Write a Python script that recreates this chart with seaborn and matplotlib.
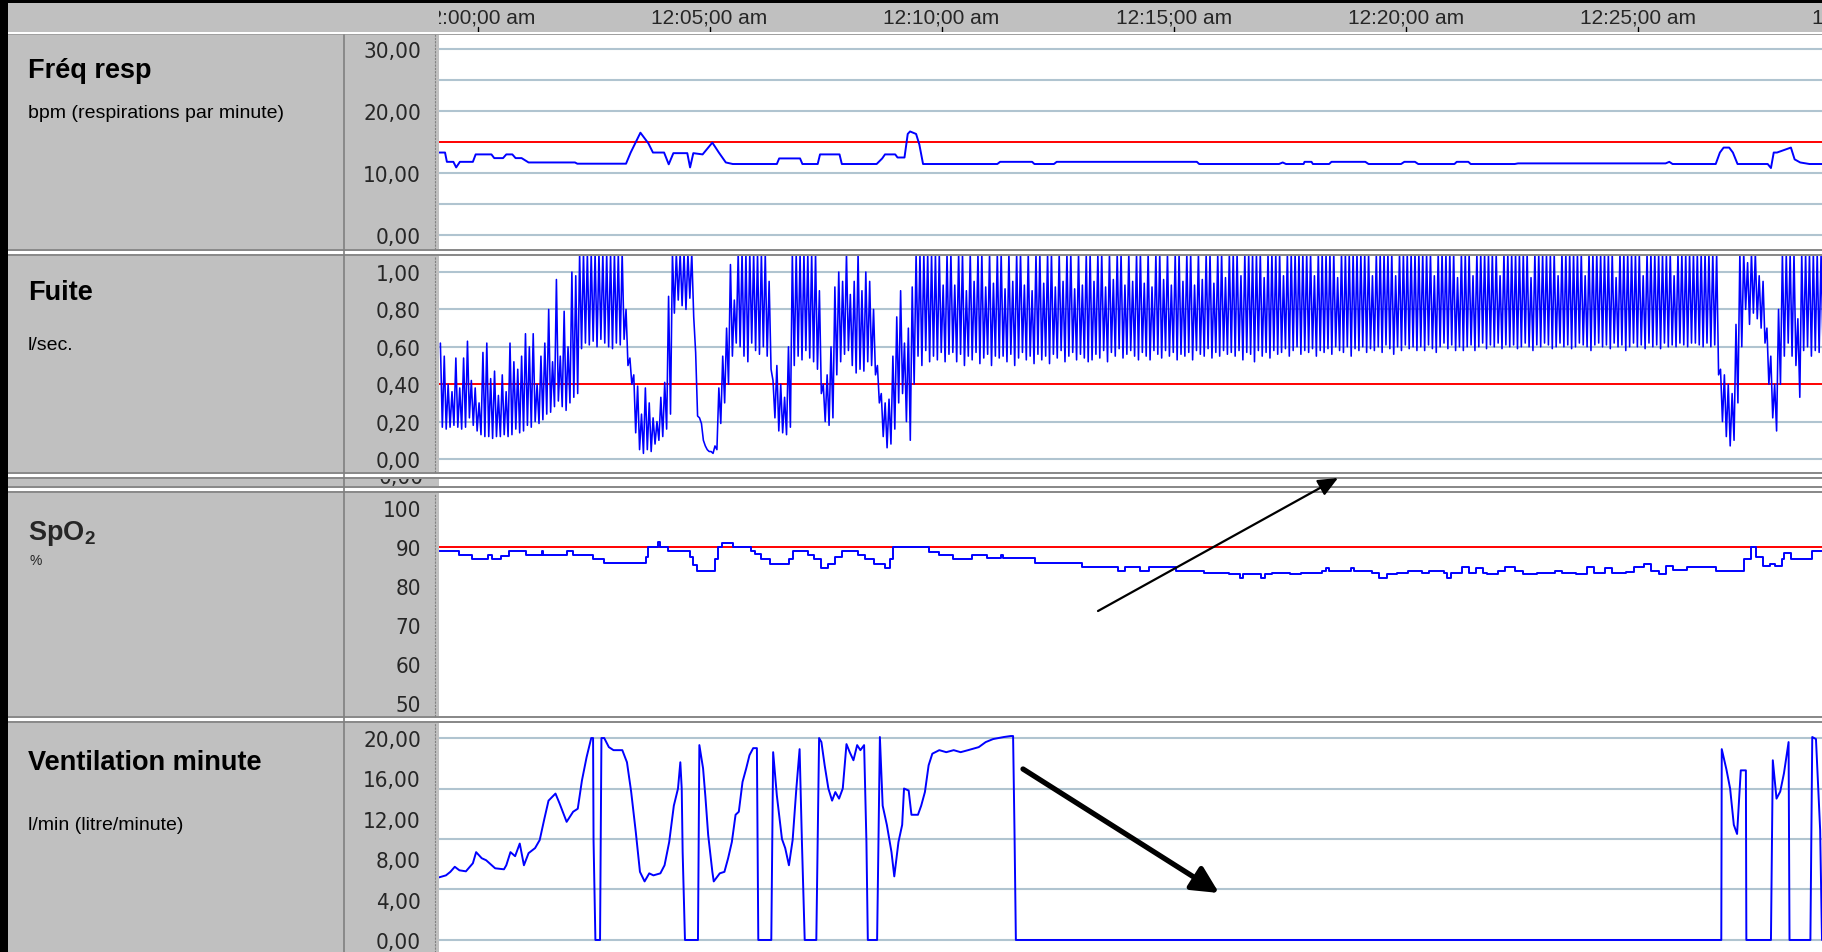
#!/usr/bin/env python3
# -*- coding: utf-8 -*-
"""
Capture d'ecran d'un logiciel de ventilation : 4 pistes (Fréq resp, Fuite, SpO2, Ventilation minute)
Temps en minutes apres 12:00:00 am.
"""

import numpy as np
import matplotlib
matplotlib.use('Agg')
import matplotlib.pyplot as plt
from matplotlib.patches import Rectangle
from matplotlib import font_manager
import seaborn as sns

# ============================================================================
# Donnees (minutes apres 12:00)
# ============================================================================
resp_t = [-0.83, -0.70, -0.66, -0.52, -0.46, -0.38, -0.10, -0.04, 0.30, 0.36,
          0.55, 0.62, 0.75, 0.82, 0.95, 1.10, 2.10, 2.15, 3.20, 3.30,
          3.51, 3.68, 3.78, 4.02, 4.12, 4.22, 4.52, 4.58, 4.65, 4.85,
          5.06, 5.20, 5.35, 5.50, 6.45, 6.50, 6.95, 7.00, 7.33, 7.38,
          7.80, 7.85, 8.60, 8.72, 8.78, 9.00, 9.05, 9.20, 9.27, 9.32,
          9.45, 9.52, 9.60, 11.20, 11.26, 11.95, 12.00, 12.42, 12.48, 15.50,
          15.55, 17.27, 17.35, 17.42, 17.80, 17.82, 17.97, 18.00, 18.35, 18.40,
          19.13, 19.20, 19.90, 19.97, 20.20, 20.27, 21.05, 21.10, 21.35, 21.40,
          22.35, 22.42, 25.60, 25.68, 25.75, 26.68, 26.77, 26.85, 26.97, 27.05,
          27.15, 27.80, 27.87, 27.93, 28.00, 28.30, 28.38, 28.50, 28.70, 29.00]
resp_v = [13.3, 13.3, 11.8, 11.8, 10.9, 11.8, 11.8, 13.0, 13.0, 12.4,
          12.4, 13.0, 13.0, 12.4, 12.4, 11.7, 11.7, 11.5, 11.5, 13.3,
          16.5, 14.8, 13.3, 13.3, 11.4, 13.2, 13.2, 10.9, 13.2, 13.0,
          14.9, 13.3, 11.7, 11.45, 11.45, 12.35, 12.35, 11.45, 11.45, 13.0,
          13.0, 11.45, 11.45, 12.35, 13.0, 13.0, 12.5, 12.5, 16.3, 16.7,
          16.3, 14.6, 11.45, 11.45, 11.8, 11.8, 11.45, 11.45, 11.8, 11.8,
          11.45, 11.45, 11.7, 11.45, 11.45, 11.8, 11.8, 11.45, 11.45, 11.8,
          11.8, 11.45, 11.45, 11.8, 11.8, 11.45, 11.45, 11.8, 11.8, 11.45,
          11.45, 11.55, 11.55, 11.8, 11.45, 11.45, 13.3, 14.1, 14.1, 13.3,
          11.45, 11.45, 10.8, 13.3, 13.3, 14.1, 12.2, 11.7, 11.45, 11.45]

# Fuite : un cycle respiratoire (pic / creux) toutes les 5 s (1/12 min) a partir de -0,8 min
# une ligne = une minute ; 1,10 = pic hors echelle (coupe en haut de la piste)
FUITE_T0 = -0.8
FUITE_STEP = 1 / 12
fuite_hi = [0.62, 0.55, 0.40, 0.36, 0.54, 0.38, 0.54, 0.63, 0.42, 0.38, 0.30, 0.57,
            0.62, 0.43, 0.47, 0.34, 0.45, 0.36, 0.62, 0.52, 0.48, 0.55, 0.67, 0.60,
            0.67, 0.40, 0.55, 0.62, 0.80, 0.52, 0.96, 0.55, 0.79, 0.60, 1.00, 0.98,
            1.10, 1.10, 1.10, 1.10, 1.10, 1.10, 1.10, 1.10, 1.10, 1.10, 1.10, 1.10,
            0.80, 0.54, 0.45, 0.39, 0.24, 0.38, 0.30, 0.22, 0.20, 0.33, 0.41, 0.87,
            1.10, 1.10, 1.10, 1.10, 1.10, 1.10, 0.57, 0.22, 0.10, 0.05, 0.04, 0.07,
            0.38, 0.55, 0.70, 1.04, 0.85, 1.10, 1.10, 1.10, 1.10, 1.10, 1.10, 1.10,
            1.10, 0.95, 0.42, 0.50, 0.40, 0.33, 0.60, 1.10, 1.10, 1.10, 1.10, 1.10,
            1.10, 1.10, 0.90, 0.40, 0.45, 0.60, 0.92, 1.00, 0.95, 1.10, 0.88, 0.95,
            1.10, 0.90, 1.00, 0.95, 0.80, 0.50, 0.35, 0.30, 0.32, 0.55, 0.76, 0.90,
            0.62, 0.70, 0.92, 1.10, 1.10, 1.10, 1.10, 1.10, 1.10, 1.10, 0.93, 1.10,
            1.10, 0.93, 1.10, 1.10, 0.90, 1.10, 0.95, 1.10, 1.10, 0.92, 1.10, 0.94,
            1.10, 1.10, 0.91, 1.10, 0.95, 1.10, 1.10, 0.93, 1.10, 0.90, 1.10, 1.10,
            0.94, 1.10, 1.10, 0.92, 1.10, 0.95, 1.10, 1.10, 0.91, 1.10, 0.93, 1.10,
            1.10, 0.95, 1.10, 1.10, 0.92, 1.10, 0.96, 1.10, 1.10, 0.93, 1.10, 0.95,
            1.10, 1.10, 0.94, 1.10, 0.92, 1.10, 1.10, 0.96, 1.10, 0.93, 1.10, 1.10,
            0.95, 1.10, 1.10, 0.93, 1.10, 0.96, 1.10, 1.10, 0.94, 1.10, 1.10, 0.97,
            1.10, 1.10, 1.10, 0.98, 1.10, 1.10, 1.10, 1.10, 1.10, 0.97, 1.10, 1.10,
            1.10, 1.10, 0.98, 1.10, 1.10, 1.10, 1.10, 1.10, 1.10, 1.10, 0.98, 1.10,
            1.10, 1.10, 1.10, 1.10, 0.97, 1.10, 1.10, 1.10, 1.10, 1.10, 1.10, 1.10,
            1.10, 0.98, 1.10, 1.10, 1.10, 1.10, 1.10, 0.98, 1.10, 1.10, 1.10, 1.10,
            1.10, 1.10, 1.10, 1.10, 1.10, 0.98, 1.10, 1.10, 1.10, 1.10, 1.10, 0.97,
            1.10, 1.10, 1.10, 0.98, 1.10, 1.10, 1.10, 1.10, 1.10, 1.10, 0.98, 1.10,
            1.10, 1.10, 1.10, 1.10, 1.10, 1.10, 0.97, 1.10, 1.10, 1.10, 1.10, 1.10,
            1.10, 0.98, 1.10, 1.10, 1.10, 1.10, 1.10, 1.10, 0.98, 1.10, 1.10, 1.10,
            1.10, 1.10, 1.10, 1.10, 0.97, 1.10, 1.10, 1.10, 1.10, 1.10, 1.10, 0.98,
            1.10, 1.10, 1.10, 1.10, 1.10, 1.10, 1.10, 0.98, 1.10, 1.10, 1.10, 1.10,
            1.10, 1.10, 1.10, 1.10, 1.10, 1.10, 1.10, 0.48, 0.45, 0.40, 0.35, 0.72,
            1.10, 1.10, 1.05, 1.10, 1.10, 0.98, 0.95, 0.70, 0.55, 0.40, 0.80, 1.10,
            1.10, 1.10, 1.10, 0.75, 1.10, 1.10, 1.10, 1.10, 1.10, 1.10]
fuite_lo = [0.17, 0.16, 0.17, 0.18, 0.17, 0.16, 0.17, 0.22, 0.18, 0.15, 0.13, 0.12,
            0.12, 0.11, 0.12, 0.12, 0.13, 0.12, 0.13, 0.16, 0.14, 0.15, 0.18, 0.17,
            0.20, 0.19, 0.21, 0.24, 0.25, 0.28, 0.31, 0.28, 0.26, 0.30, 0.33, 0.35,
            0.59, 0.62, 0.61, 0.63, 0.60, 0.64, 0.62, 0.60, 0.59, 0.62, 0.61, 0.64,
            0.50, 0.40, 0.14, 0.05, 0.03, 0.05, 0.04, 0.08, 0.10, 0.12, 0.16, 0.24,
            0.78, 0.85, 0.82, 0.80, 0.86, 0.76, 0.23, 0.19, 0.07, 0.04, 0.03, 0.05,
            0.19, 0.30, 0.40, 0.55, 0.62, 0.60, 0.55, 0.52, 0.62, 0.58, 0.56, 0.60,
            0.55, 0.48, 0.22, 0.15, 0.14, 0.13, 0.17, 0.50, 0.55, 0.53, 0.58, 0.54,
            0.52, 0.48, 0.35, 0.20, 0.18, 0.22, 0.45, 0.52, 0.56, 0.58, 0.50, 0.46,
            0.48, 0.47, 0.52, 0.50, 0.45, 0.30, 0.12, 0.06, 0.08, 0.16, 0.30, 0.35,
            0.20, 0.10, 0.40, 0.55, 0.50, 0.58, 0.52, 0.55, 0.53, 0.57, 0.52, 0.56,
            0.57, 0.52, 0.56, 0.50, 0.55, 0.53, 0.57, 0.51, 0.54, 0.56, 0.50, 0.55,
            0.54, 0.55, 0.52, 0.56, 0.50, 0.54, 0.57, 0.53, 0.55, 0.51, 0.56, 0.53,
            0.55, 0.51, 0.56, 0.54, 0.58, 0.52, 0.55, 0.57, 0.53, 0.56, 0.54, 0.52,
            0.53, 0.56, 0.54, 0.58, 0.52, 0.57, 0.55, 0.59, 0.54, 0.56, 0.58, 0.55,
            0.53, 0.57, 0.55, 0.53, 0.58, 0.56, 0.54, 0.58, 0.55, 0.57, 0.53, 0.56,
            0.55, 0.57, 0.53, 0.58, 0.56, 0.55, 0.59, 0.54, 0.57, 0.55, 0.58, 0.56,
            0.57, 0.55, 0.58, 0.53, 0.57, 0.56, 0.52, 0.58, 0.55, 0.57, 0.54, 0.58,
            0.56, 0.57, 0.59, 0.55, 0.58, 0.60, 0.56, 0.58, 0.57, 0.59, 0.55, 0.58,
            0.57, 0.59, 0.56, 0.60, 0.58, 0.57, 0.60, 0.55, 0.59, 0.58, 0.60, 0.57,
            0.59, 0.58, 0.60, 0.57, 0.61, 0.59, 0.56, 0.60, 0.58, 0.61, 0.59, 0.60,
            0.58, 0.60, 0.58, 0.61, 0.59, 0.57, 0.60, 0.62, 0.59, 0.61, 0.58, 0.60,
            0.58, 0.60, 0.61, 0.58, 0.60, 0.62, 0.59, 0.61, 0.60, 0.62, 0.59, 0.61,
            0.60, 0.61, 0.59, 0.60, 0.62, 0.60, 0.58, 0.61, 0.60, 0.62, 0.61, 0.59,
            0.60, 0.62, 0.60, 0.61, 0.59, 0.60, 0.62, 0.61, 0.60, 0.58, 0.61, 0.62,
            0.60, 0.61, 0.59, 0.62, 0.60, 0.61, 0.58, 0.60, 0.62, 0.60, 0.61, 0.59,
            0.62, 0.60, 0.61, 0.59, 0.62, 0.60, 0.61, 0.60, 0.62, 0.61, 0.60, 0.62,
            0.62, 0.61, 0.60, 0.62, 0.60, 0.61, 0.45, 0.20, 0.12, 0.07, 0.10, 0.30,
            0.60, 0.80, 0.72, 0.78, 0.75, 0.70, 0.62, 0.40, 0.22, 0.15, 0.40, 0.55,
            0.62, 0.55, 0.50, 0.33, 0.58, 0.60, 0.55, 0.58, 0.57, 0.60]

# SpO2 : paliers (valeur tenue jusqu'au point suivant)
spo2_t = [-0.83, -0.40, -0.12, 0.22, 0.32, 0.50, 0.68, 1.05, 1.38, 1.42,
          1.93, 2.05, 2.48, 2.72, 3.62, 3.67, 3.88, 3.93, 4.10, 4.58,
          4.65, 4.72, 5.12, 5.18, 5.26, 5.50, 5.90, 5.98, 6.10, 6.30,
          6.72, 6.80, 7.12, 7.25, 7.40, 7.55, 7.70, 7.85, 8.20, 8.35,
          8.55, 8.78, 8.88, 8.95, 9.72, 9.95, 10.25, 10.65, 10.98, 11.28,
          11.32, 12.02, 13.02, 13.80, 13.96, 14.27, 14.47, 15.04, 15.66, 16.20,
          16.43, 16.50, 16.89, 16.97, 17.12, 17.50, 17.74, 18.20, 18.28, 18.35,
          18.82, 18.89, 19.28, 19.43, 19.59, 19.82, 20.05, 20.36, 20.51, 20.82,
          20.90, 20.97, 21.21, 21.36, 21.51, 21.67, 21.75, 21.98, 22.13, 22.36,
          22.52, 22.83, 23.21, 23.37, 23.67, 23.90, 24.06, 24.29, 24.44, 24.75,
          24.91, 25.14, 25.29, 25.45, 25.60, 25.76, 26.06, 26.68, 27.30, 27.45,
          27.55, 27.70, 27.84, 27.95, 28.10, 28.15, 28.30, 28.76, 29.00]
spo2_v = [89.1, 87.9, 86.9, 87.9, 86.9, 87.6, 89.0, 87.9, 89.0, 87.9,
          89.0, 87.9, 86.9, 85.8, 87.5, 90.0, 91.2, 90.0, 89.0, 87.5,
          85.5, 83.8, 87.0, 90.0, 91.0, 90.0, 89.0, 88.1, 86.8, 85.7,
          86.8, 89.1, 88.0, 86.8, 84.7, 85.7, 87.5, 89.1, 88.0, 86.8,
          85.7, 84.7, 87.0, 90.0, 88.8, 87.9, 86.8, 87.9, 87.2, 87.9,
          87.2, 85.9, 84.8, 83.8, 84.8, 83.8, 84.8, 83.8, 83.4, 83.0,
          82.1, 83.0, 82.1, 83.0, 83.4, 83.0, 83.4, 83.8, 84.5, 83.8,
          84.5, 83.8, 83.4, 82.1, 83.0, 83.4, 83.8, 83.4, 83.8, 83.4,
          82.1, 83.4, 84.8, 83.4, 84.7, 83.4, 83.0, 83.8, 84.8, 83.8,
          83.0, 83.4, 83.8, 83.4, 83.0, 84.8, 83.4, 84.7, 83.4, 83.6,
          84.8, 85.7, 83.8, 83.0, 85.1, 84.2, 84.8, 83.8, 87.0, 90.0,
          87.5, 85.1, 85.7, 85.1, 87.0, 88.5, 87.0, 89.0, 89.0]

vent_t = [-0.83, -0.68, -0.585, -0.49, -0.39, -0.25, -0.10, -0.03, 0.09, 0.185,
          0.38, 0.57, 0.62, 0.71, 0.81, 0.91, 1.00, 1.10, 1.24, 1.34,
          1.44, 1.53, 1.68, 1.77, 1.92, 2.06, 2.16, 2.25, 2.35, 2.45,
          2.49, 2.50, 2.54, 2.64, 2.67, 2.73, 2.83, 2.93, 3.12, 3.22,
          3.31, 3.41, 3.50, 3.60, 3.70, 3.79, 3.94, 4.03, 4.13, 4.23,
          4.32, 4.37, 4.40, 4.42, 4.47, 4.75, 4.78, 4.86, 4.91, 4.97,
          5.06, 5.09, 5.22, 5.32, 5.40, 5.48, 5.56, 5.63, 5.71, 5.79,
          5.86, 5.94, 6.02, 6.05, 6.33, 6.37, 6.45, 6.56, 6.63, 6.71,
          6.79, 6.87, 6.94, 6.99, 7.05, 7.30, 7.36, 7.41, 7.48, 7.56,
          7.64, 7.71, 7.79, 7.87, 7.95, 8.02, 8.10, 8.18, 8.25, 8.33,
          8.38, 8.41, 8.61, 8.67, 8.73, 8.82, 8.92, 8.98, 9.07, 9.15,
          9.19, 9.29, 9.35, 9.49, 9.56, 9.64, 9.72, 9.80, 9.95, 10.10,
          10.26, 10.41, 10.57, 10.80, 10.95, 11.11, 11.34, 11.49, 11.54, 11.57,
          11.60, 26.80, 26.81, 26.91, 26.99, 27.07, 27.14, 27.22, 27.33, 27.34,
          27.87, 27.91, 27.99, 28.07, 28.15, 28.25, 28.27, 28.72, 28.76, 28.84,
          28.93, 28.97]
vent_v = [6.2, 6.4, 6.75, 7.25, 6.9, 6.8, 7.6, 8.7, 8.1, 7.9,
          7.1, 7.0, 7.4, 8.7, 8.3, 9.55, 7.4, 8.6, 9.1, 9.9,
          12.0, 13.8, 14.5, 13.5, 11.7, 12.7, 13.0, 15.8, 18.1, 20.0,
          20.0, 9.9, 0.0, 0.0, 20.0, 20.0, 19.1, 18.8, 18.8, 17.6,
          14.7, 10.7, 6.75, 5.8, 6.6, 6.4, 6.6, 7.4, 9.7, 13.3,
          15.0, 17.6, 15.0, 8.7, 0.0, 0.0, 19.3, 17.0, 14.2, 10.4,
          6.75, 5.8, 6.6, 6.75, 8.1, 9.7, 12.4, 12.7, 15.65, 17.0,
          18.3, 19.0, 19.0, 0.0, 0.0, 18.6, 14.3, 10.0, 9.1, 7.4,
          9.9, 15.0, 18.9, 9.7, 0.0, 0.0, 20.0, 19.6, 17.3, 15.0,
          13.8, 14.65, 14.0, 15.0, 19.4, 18.6, 17.8, 19.3, 18.8, 19.3,
          9.7, 0.0, 0.0, 20.1, 13.3, 11.4, 8.7, 6.3, 9.7, 11.4,
          15.0, 14.8, 12.4, 12.4, 13.3, 14.65, 17.3, 18.45, 18.8, 18.6,
          18.8, 18.6, 18.8, 19.1, 19.6, 19.9, 20.1, 20.2, 20.2, 10.9,
          0.0, 0.0, 18.9, 16.9, 15.0, 11.4, 10.5, 16.8, 16.8, 0.0,
          0.0, 17.8, 14.0, 14.7, 16.5, 19.6, 0.0, 0.0, 20.1, 19.9,
          10.9, 0.0]

header_ticks = [0, 5, 10, 15, 20, 25, 30]
header_labels = ['12:00;00 am', '12:05;00 am', '12:10;00 am', '12:15;00 am',
                 '12:20;00 am', '12:25;00 am', '12:30;00 am']

# ============================================================================
# Mise en page (pixels de l'image 1822x953)
# ============================================================================
W, H = 1822, 953
X_MIN, X_MAX = -0.83, 28.97
PLOT_X0 = 439

GRAY = '#c0c0c0'
DARK = '#808080'
GRID = '#b0c4d0'
BLUE = '#0000ff'
RED = '#ff0000'

sns.set_style('white')
plt.rcParams['font.family'] = ['Liberation Sans', 'DejaVu Sans']

available = {f.name for f in font_manager.fontManager.ttflist}
if 'Liberation Sans Narrow' in available:
    TICK_FONT = dict(family='Liberation Sans Narrow', size=19)
else:
    TICK_FONT = dict(family='DejaVu Sans', stretch='condensed', size=16)


def frac(x0, y0, x1, y1):
    """rectangle en pixels (haut-gauche / bas-droite) -> fraction de figure"""
    return [x0 / W, 1 - y1 / H, (x1 - x0) / W, (y1 - y0) / H]


def make_panel(fig, y0, y1, ylim, major, labels, minor, grid, limit=None, minor_len=6):
    ax = fig.add_axes(frac(PLOT_X0, y0, W, y1))
    ax.set_facecolor('white')
    ax.set_xlim(X_MIN, X_MAX)
    ax.set_ylim(*ylim)
    for s in ('top', 'right', 'bottom'):
        ax.spines[s].set_visible(False)
    ax.spines['left'].set_position(('outward', 3))
    ax.spines['left'].set_linestyle((0, (1, 2)))
    ax.spines['left'].set_color(DARK)
    ax.spines['left'].set_linewidth(0.8)
    ax.set_xticks([])
    ax.set_yticks(major, labels)
    ax.set_yticks(minor, minor=True)
    ax.tick_params(axis='y', which='major', direction='out', length=6,
                   width=1.2, color='black', pad=4)
    ax.tick_params(axis='y', which='minor', direction='out', length=minor_len,
                   width=1.2, color='black')
    for lbl in ax.get_yticklabels():
        lbl.set(**TICK_FONT)
    ax.grid(False)
    for g in grid:
        ax.axhline(g, color=GRID, lw=1.5, zorder=1)
    if limit is not None:
        ax.axhline(limit, color=RED, lw=1.4, zorder=2)
    return ax


def main():
    fig = plt.figure(figsize=(W / 100, H / 100), dpi=100)
    fig.patch.set_facecolor(GRAY)

    # ---- fond : bordures, separateurs, colonne des titres ----
    bg = fig.add_axes([0, 0, 1, 1])
    bg.set_xlim(0, W)
    bg.set_ylim(H, 0)
    bg.axis('off')
    bg.add_patch(Rectangle((0, 0), 8, H, color='black', lw=0))
    bg.add_patch(Rectangle((0, 0), W, 4, color='black', lw=0))
    bg.add_patch(Rectangle((8, 33), W, 2, color='white', lw=0))
    bg.add_patch(Rectangle((8, 35), W, 1, color='#a0a0a0', lw=0))
    for y in [250, 473, 487, 717]:
        bg.add_patch(Rectangle((8, y), W, 2, color='#8a8a8a', lw=0))
        bg.add_patch(Rectangle((8, y + 2), W, 2.5, color='white', lw=0))
        bg.add_patch(Rectangle((8, y + 4.5), W, 2, color='#8a8a8a', lw=0))
    bg.plot([344, 344], [36, H], color=DARK, lw=1.2)

    title = dict(fontsize=19.5, fontweight='bold', ha='left', va='center', color='black')
    sub = dict(fontsize=14, ha='left', va='center', color='black')
    bg.text(28, 71, 'Fréq resp', **title)
    bg.text(28, 114, 'bpm (respirations par minute)', **sub)
    bg.text(28, 293, 'Fuite', **title)
    bg.text(28, 346, 'l/sec.', **sub)
    bg.text(28, 534, r'SpO$_\mathregular{2}$', fontsize=19.5, fontweight='bold',
            ha='left', va='center')
    bg.text(29, 561, '%', fontsize=10, ha='left', va='center')
    bg.text(28, 763, 'Ventilation minute', **title)
    bg.text(28, 826, 'l/min (litre/minute)', **sub)

    # ---- bandeau des heures ----
    hd = fig.add_axes(frac(PLOT_X0, 4, W, 33))
    hd.set_xlim(X_MIN, X_MAX)
    hd.set_ylim(33, 4)
    hd.axis('off')
    for t, lab in zip(header_ticks, header_labels):
        hd.text(t, 18.5, lab, ha='center', va='center', fontsize=15, clip_on=True)
        hd.plot([t, t], [28, 33], color='black', lw=1.0)

    # ---- Fréq resp ----
    ax1 = make_panel(fig, 36, 250, (-2.26, 32.26), [0, 10, 20, 30],
                     ['0,00', '10,00', '20,00', '30,00'], [5, 15, 25],
                     [0, 5, 10, 20, 25, 30], limit=15)
    sns.lineplot(x=resp_t, y=resp_v, ax=ax1, color=BLUE, lw=1.4,
                 estimator=None, sort=False, zorder=3)

    # ---- Fuite ----
    ax2 = make_panel(fig, 257, 473, (-0.0695, 1.0856), [0, 0.2, 0.4, 0.6, 0.8, 1.0],
                     ['0,00', '0,20', '0,40', '0,60', '0,80', '1,00'],
                     [0.1, 0.3, 0.5, 0.7, 0.9], [0, 0.2, 0.6, 0.8, 1.0], limit=0.4)
    fuite_t = FUITE_T0 + FUITE_STEP * np.arange(len(fuite_hi))
    fx = np.column_stack([fuite_t, fuite_t + FUITE_STEP / 2]).ravel()
    fy = np.column_stack([fuite_hi, fuite_lo]).ravel()
    sns.lineplot(x=fx, y=fy, ax=ax2, color=BLUE, lw=1.15, estimator=None,
                 sort=False, zorder=3)

    # ---- piste repliee (seul un bout de "0,00" est visible) ----
    sl = fig.add_axes(frac(PLOT_X0, 480, W, 487))
    sl.set_facecolor('white')
    sl.set_xticks([])
    sl.set_yticks([])
    for s in sl.spines.values():
        s.set_visible(False)
    sl_lab = fig.add_axes(frac(346, 480, PLOT_X0, 487))
    sl_lab.set_xlim(346, PLOT_X0)
    sl_lab.set_ylim(487, 480)
    sl_lab.axis('off')
    sl_lab.text(424, 484, '0,00', ha='right', va='baseline', clip_on=True, **TICK_FONT)

    # ---- SpO2 ----
    ax3 = make_panel(fig, 494, 717, (46.67, 103.85), [50, 60, 70, 80, 90, 100],
                     ['50', '60', '70', '80', '90', '100'],
                     [55, 65, 75, 85, 95], [], limit=90)
    sns.lineplot(x=spo2_t, y=spo2_v, ax=ax3, color=BLUE, lw=1.4, estimator=None,
                 sort=False, drawstyle='steps-post', zorder=3)

    # ---- Ventilation minute ----
    ax4 = make_panel(fig, 724, H, (-1.19, 21.49), [0, 4, 8, 12, 16, 20],
                     ['0,00', '4,00', '8,00', '12,00', '16,00', '20,00'],
                     [v * 0.8 for v in range(26) if v % 5 != 0],
                     [0, 5, 10, 15, 20], minor_len=5)
    sns.lineplot(x=vent_t, y=vent_v, ax=ax4, color=BLUE, lw=1.4,
                 estimator=None, sort=False, zorder=3)

    # ---- fleches ajoutees sur la capture ----
    top = fig.add_axes([0, 0, 1, 1])
    top.set_xlim(0, W)
    top.set_ylim(H, 0)
    top.axis('off')
    top.annotate('', xy=(1338, 479), xytext=(1098, 612),
                 arrowprops=dict(arrowstyle='-|>,head_length=0.8,head_width=0.35',
                                 color='black', lw=1.6, mutation_scale=15,
                                 shrinkA=0, shrinkB=0))
    top.annotate('', xy=(1219, 894), xytext=(1023, 770),
                 arrowprops=dict(arrowstyle='-|>,head_length=0.8,head_width=0.4',
                                 color='black', lw=3.8, mutation_scale=20,
                                 shrinkA=0, shrinkB=0))

    fig.savefig('out.png', dpi=100, facecolor=fig.get_facecolor())
    plt.close(fig)


if __name__ == '__main__':
    main()
